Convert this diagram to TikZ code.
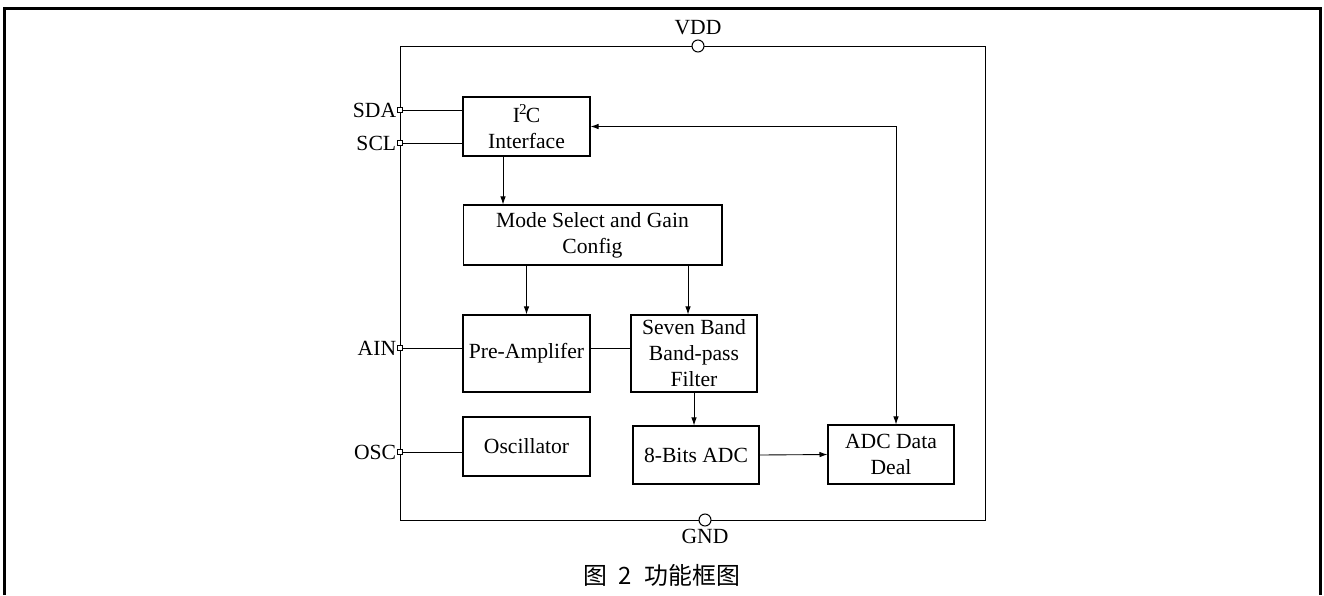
\documentclass[tikz,border=0pt]{standalone}
\usepackage{fontspec}
\setmainfont{Liberation Serif}
\newfontfamily\cjk{Noto Sans CJK SC}
\usetikzlibrary{arrows.meta}

\begin{document}
\begin{tikzpicture}[x=0.02cm, y=-0.02cm,
        font=\fontsize{12.3}{14.8}\selectfont,
        block/.style={draw, line width=0.6pt, align=center, inner sep=1pt, minimum width=2.54cm},
        pad/.style={draw, fill=white, line width=0.4pt, minimum size=0.1cm, inner sep=0pt},
        supply/.style={circle, draw, fill=white, line width=0.6pt, minimum size=0.24cm, inner sep=0pt},
        arr/.style={-{Latex[length=1.6mm, width=1.1mm]}},
        line width=0.5pt]

        \useasboundingbox (0,0) rectangle (1324,595);

        % --- Outer frame (open at the bottom) ---
        \draw[line width=1.4pt] (4.5,595) -- (4.5,8.5) -- (1320.5,8.5) -- (1320.5,595);

        % --- Chip outline ---
        \draw (400,46) rectangle (985,520);

        % Supply pins
        \node[supply, label={[label distance=-1pt]above:VDD}] (vdd) at (698,46) {};
        \node[supply, label={[label distance=-2pt]below:GND}] (gnd) at (705,520) {};

        % Blocks
        \node[block, minimum height=1.18cm] (i2c) at (526.5,126.5) {I\textsuperscript{\kern-0.5pt 2}\kern-1pt C\\Interface};
        \node[block, minimum width=5.18cm, minimum height=1.2cm] (mode) at (592.5,235) {Mode Select and Gain\\Config};
        \node[block, minimum height=1.54cm] (pre) at (526.5,353.5) {Pre-Amplifer};
        \node[block, minimum width=2.52cm, minimum height=1.54cm] (filter) at (694,353.5) {Seven Band\\Band-pass\\Filter};
        \node[block, minimum height=1.18cm] (osc) at (526.5,446.5) {Oscillator};
        \node[block, minimum width=2.52cm, minimum height=1.16cm] (adc) at (696,455) {8-Bits ADC};
        \node[block, minimum width=2.52cm, minimum height=1.18cm] (deal) at (891,454.5) {ADC Data\\Deal};

        % Pads on the left side
        \foreach \name/\y/\txt in {sda/110/SDA, scl/143/SCL, ain/348/AIN, oscp/452/OSC}
            \node[pad, label={[label distance=-3pt]left:\txt}] (\name) at (400,\y) {};

        % Pad wires
        \draw (sda) -- (sda -| i2c.west);
        \draw (scl) -- (scl -| i2c.west);
        \draw (ain) -- (ain -| pre.west);
        \draw (oscp) -- (oscp -| osc.west);

        % Signal flow
        \draw[arr] ([xshift=-0.47cm]i2c.south) -- ([xshift=-0.47cm]i2c.south |- mode.north);
        \draw[arr] (mode.south -| pre.north) -- (pre.north);
        \draw[arr] ([xshift=-0.12cm]mode.south -| filter.north) -- ([xshift=-0.12cm]filter.north);
        \draw (pre.east |- ain) -- (filter.west |- ain);
        \draw[arr] (filter.south) -- (filter.south |- adc.north);
        \draw[arr] (adc.east) -- (deal.west);
        \draw[{Latex[length=1.6mm, width=1.1mm]}-{Latex[length=1.6mm, width=1.1mm]}]
            ([xshift=0.1cm]deal.north) |- (i2c.east);

        % Caption
        \node[font=\fontsize{13.6}{16}\selectfont] (cap) at (662,575) {\cjk{图}\hspace{0.45em}2\hspace{0.55em}\cjk{功能框图}};

\end{tikzpicture}
\end{document}
